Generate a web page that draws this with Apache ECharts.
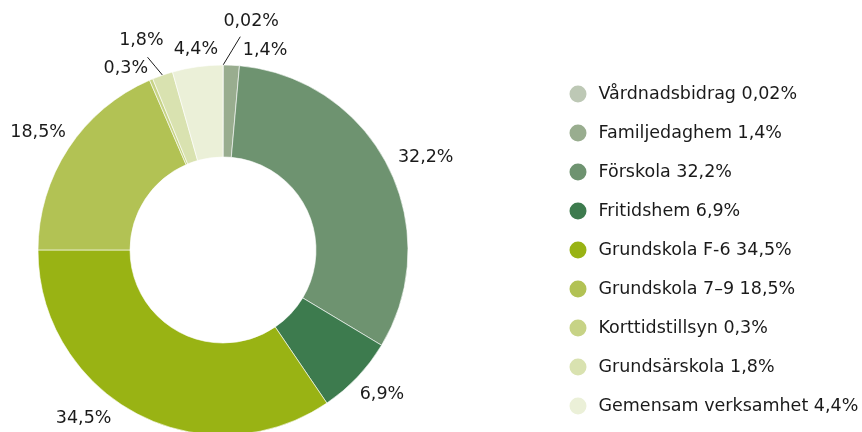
<!DOCTYPE html>
<html><head><meta charset="utf-8">
<script src="https://cdn.jsdelivr.net/npm/echarts@6/dist/echarts.min.js"></script>
<style>html,body{margin:0;padding:0;background:#fff}#c{width:862px;height:432px}</style>
</head><body><div id="c"></div>
<script>
// ---- data ----
var categories = ['Vårdnadsbidrag','Familjedaghem','Förskola','Fritidshem','Grundskola F-6','Grundskola 7–9','Korttidstillsyn','Grundsärskola','Gemensam verksamhet'];
var shares = [0.02, 1.4, 32.2, 6.9, 34.5, 18.5, 0.3, 1.8, 4.4];
var valueLabels = ['0,02%','1,4%','32,2%','6,9%','34,5%','18,5%','0,3%','1,8%','4,4%'];

// ---- style ----
var colors = ['#bdc8b5','#99ad8f','#6e9370','#3d7b4e','#99b314','#b2c254','#c7d386','#d9e2b0','#ebf0d8'];
var CX = 223, CY = 250, R_IN = 93, R_OUT = 185;
// label placement: radius from centre and angle offset (deg) from slice mid-angle
var labelRadius = [230, 204, 223, 215, 219, 219, 206, 225, 202];
var labelAngleShift = [7.0, 9.3, 2.3, -1.1, 11.6, -0.9, -5.3, -2.2, 0.2];
// leader lines (only for two labels): end radius and angle offset
var lineEndRadius = [214, 0, 0, 0, 0, 0, 0, 207, 0];
var lineEndShift = [4.6, 0, 0, 0, 0, 0, 0, -2.3, 0];
var FONT = 'DejaVu Sans';
var FS = 17.5;

var total = shares.reduce(function(a,b){return a+b;},0);
var mids = [], acc = 0;
shares.forEach(function(v){ mids.push((acc + v/2)/total*360); acc += v; });
function polar(r, deg){ var a = deg*Math.PI/180; return [CX + r*Math.sin(a), CY - r*Math.cos(a)]; }

var chart = echarts.init(document.getElementById('c'), null, {renderer:'canvas'});
chart.setOption({
  animation: false,
  color: colors,
  legend: {
    orient: 'vertical', left: 567.5, top: 83.5, padding: 0, height: 380,
    itemWidth: 19, itemHeight: 19, itemGap: 18, icon: 'circle',
    textStyle: {fontFamily: FONT, fontSize: FS, color: '#1a1a1a', padding: [0, 0, 0, 6]},
    formatter: function(name){ var i = categories.indexOf(name); return name + ' ' + valueLabels[i]; },
    data: categories
  },
  series: [{
    type: 'pie', center: [CX, CY], radius: [R_IN, R_OUT],
    startAngle: 90, clockwise: true, avoidLabelOverlap: false,
    itemStyle: {borderColor: '#ffffff', borderWidth: 0.6},
    label: {
      show: true, position: 'outside', fontFamily: FONT, fontSize: FS, color: '#1a1a1a',
      formatter: function(p){ return valueLabels[p.dataIndex]; }
    },
    labelLine: {show: false, length: 10, length2: 0, lineStyle: {color: '#1a1a1a', width: 1}},
    labelLayout: function(p){
      var i = p.dataIndex;
      var pos = polar(labelRadius[i], mids[i] + labelAngleShift[i]);
      var o = {x: pos[0], y: pos[1], align: 'center', verticalAlign: 'middle', hideOverlap: false};
      if (lineEndRadius[i]) {
        var s = polar(R_OUT, mids[i]);
        var e = polar(lineEndRadius[i], mids[i] + lineEndShift[i]);
        o.labelLinePoints = [s, [(s[0]+e[0])/2, (s[1]+e[1])/2], e];
      }
      return o;
    },
    emphasis: {disabled: true},
    data: categories.map(function(c, i){
      return {name: c, value: shares[i], labelLine: {show: !!lineEndRadius[i]}};
    })
  }]
});
</script></body></html>
